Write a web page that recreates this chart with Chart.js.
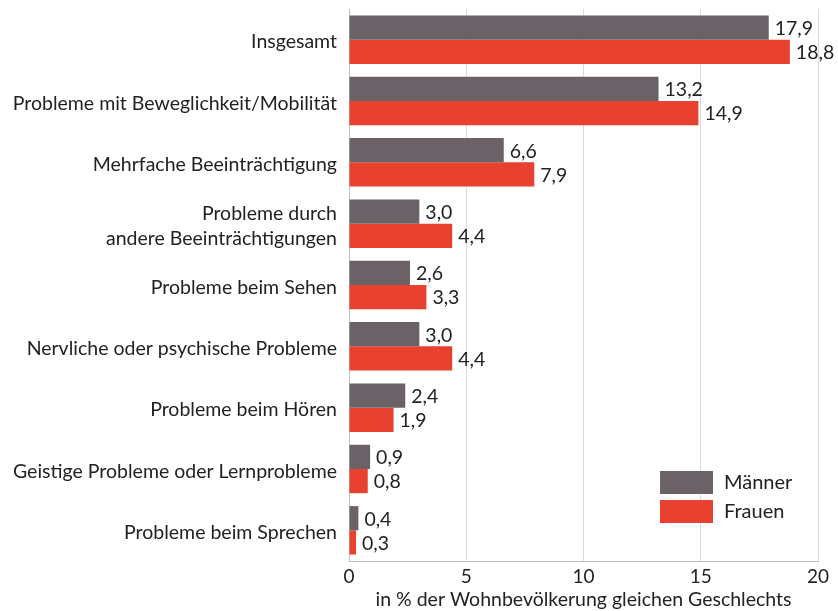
<!DOCTYPE html>
<html>
<head>
<meta charset="utf-8">
<script src="https://cdn.jsdelivr.net/npm/chart.js@4/dist/chart.umd.min.js"></script>
<style>
  html, body { margin: 0; padding: 0; background: #fff; }
  #wrap { width: 838px; height: 611px; }
</style>
</head>
<body>
<div id="wrap"><canvas id="barChart"></canvas></div>
<script>
const categories = [
    'Insgesamt',
    'Probleme mit Beweglichkeit/Mobilität',
    'Mehrfache Beeinträchtigung',
    ['Probleme durch', 'andere Beeinträchtigungen'],
    'Probleme beim Sehen',
    'Nervliche oder psychische Probleme',
    'Probleme beim Hören',
    'Geistige Probleme oder Lernprobleme',
    'Probleme beim Sprechen'
];
const maenner = [17.9, 13.2, 6.6, 3.0, 2.6, 3.0, 2.4, 0.9, 0.4];
const frauen = [18.8, 14.9, 7.9, 4.4, 3.3, 4.4, 1.9, 0.8, 0.3];
const xTicks = [0, 5, 10, 15, 20];
const xTitle = 'in % der Wohnbevölkerung gleichen Geschlechts';

const FONT = 'Lato, "Open Sans", sans-serif';
const TEXT = '#222222';

function fmt(v) {
    return v.toFixed(1).replace('.', ',');
}

const valueLabels = {
    id: 'valueLabels',
    afterDatasetsDraw(chart) {
        const ctx = chart.ctx;
        ctx.save();
        ctx.font = '19.5px ' + FONT;
        ctx.fillStyle = TEXT;
        ctx.textAlign = 'left';
        ctx.textBaseline = 'middle';
        chart.data.datasets.forEach((ds, i) => {
            chart.getDatasetMeta(i).data.forEach((bar, j) => {
                ctx.fillText(fmt(ds.data[j]), bar.x + 6, bar.y + 1);
            });
        });
        ctx.restore();
    }
};

const innerLegend = {
    id: 'innerLegend',
    afterDraw(chart) {
        const ctx = chart.ctx;
        ctx.save();
        ctx.font = '20px ' + FONT;
        ctx.textBaseline = 'middle';
        ctx.textAlign = 'left';
        chart.data.datasets.forEach((ds, i) => {
            const y = 471 + i * 29;
            ctx.fillStyle = ds.backgroundColor;
            ctx.fillRect(660, y, 53, 23);
            ctx.fillStyle = TEXT;
            ctx.fillText(ds.label, 724, y + 12);
        });
        ctx.restore();
    }
};

new Chart(document.getElementById('barChart').getContext('2d'), {
    type: 'bar',
    data: {
        labels: categories,
        datasets: [{
            label: 'Männer',
            data: maenner,
            backgroundColor: '#6b6268'
        }, {
            label: 'Frauen',
            data: frauen,
            backgroundColor: '#e8412f'
        }]
    },
    options: {
        indexAxis: 'y',
        responsive: true,
        maintainAspectRatio: false,
        animation: false,
        categoryPercentage: 0.79,
        barPercentage: 1.0,
        layout: {
            padding: { top: 9, right: 20, left: 0, bottom: 0 }
        },
        scales: {
            x: {
                min: 0,
                max: 20,
                afterBuildTicks(scale) {
                    scale.ticks = xTicks.map(v => ({ value: v }));
                },
                afterFit(scale) {
                    scale.height = 50;
                },
                grid: {
                    color: '#dcdcdc',
                    lineWidth: 1,
                    drawTicks: false
                },
                border: { color: '#bfbfbf', width: 1 },
                ticks: {
                    color: TEXT,
                    padding: 4,
                    font: { family: FONT, size: 19 }
                },
                title: {
                    display: true,
                    text: xTitle,
                    color: TEXT,
                    padding: { top: 0, bottom: 0 },
                    font: { family: FONT, size: 19.5 }
                }
            },
            y: {
                afterFit(scale) {
                    scale.width = 349;
                    scale.paddingTop = 0;
                    scale.paddingBottom = 0;
                },
                grid: { display: false },
                border: { color: '#bfbfbf', width: 1 },
                ticks: {
                    color: TEXT,
                    padding: 4,
                    labelOffset: 2.5,
                    font: { family: FONT, size: 19.5, lineHeight: 1.25 }
                }
            }
        },
        plugins: {
            legend: { display: false },
            tooltip: { enabled: false }
        }
    },
    plugins: [valueLabels, innerLegend]
});
</script>
</body>
</html>
